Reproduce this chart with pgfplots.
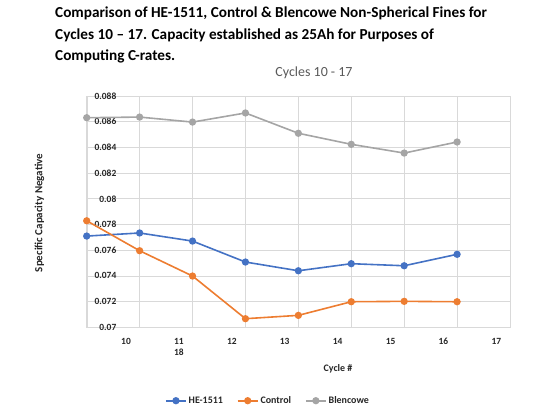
\documentclass[border=0pt]{standalone}
\usepackage{pgfplots}
\pgfplotsset{compat=1.18}
\usepackage{fontspec}
\setmainfont{Carlito}
\definecolor{cblue}{HTML}{4472C4}
\definecolor{corange}{HTML}{ED7D31}
\definecolor{cgray}{HTML}{A5A5A5}
\definecolor{gridc}{HTML}{D9D9D9}
\definecolor{txt}{HTML}{262626}
\definecolor{ttl}{HTML}{595959}
\begin{document}
\begin{tikzpicture}[x=1bp,y=1bp]
\path[use as bounding box] (0,0) rectangle (552,407);
\node[anchor=base west,inner sep=0pt,font=\fontsize{15.3}{17}\selectfont\bfseries] at (55,407-18) {Comparison of HE-1511, Control \& Blencowe Non-Spherical Fines for};
\node[anchor=base west,inner sep=0pt,font=\fontsize{15.3}{17}\selectfont\bfseries] at (55,407-39.5) {Cycles 10 -- 17. Capacity established as 25Ah for Purposes of};
\node[anchor=base west,inner sep=0pt,font=\fontsize{15.3}{17}\selectfont\bfseries] at (55,407-60.5) {Computing C-rates.};
\node[inner sep=0pt,text=ttl,font=\fontsize{14}{16}\selectfont] at (314,407-73) {Cycles 10 - 17};
\node[inner sep=0pt,rotate=90,text=txt,font=\fontsize{11}{12}\selectfont\bfseries] at (39.5,407-213) {Specific Capacity Negative};
\node[inner sep=0pt,text=txt,font=\fontsize{10}{12}\selectfont\bfseries] at (338,407-369) {Cycle \#};
\begin{axis}[
  at={(86.7bp,79.7bp)}, anchor=south west,
  width=423.3bp, height=231.3bp, scale only axis,
  xmin=0, xmax=8, ymin=0.07, ymax=0.088,
  scaled y ticks=false,
  xtick={0,...,7},
  xticklabels={10,{11\\18},12,13,14,15,16,17},
  xticklabel style={anchor=north, inner sep=0pt, yshift=-10.5bp, xshift=39.3bp, align=center, text=txt, font=\fontsize{9.5}{11.7}\selectfont\bfseries},
  ytick={0.07,0.072,0.074,0.076,0.078,0.08,0.082,0.084,0.086,0.088},
  yticklabels={0.07,0.072,0.074,0.076,0.078,0.08,0.082,0.084,0.086,0.088},
  yticklabel style={anchor=east, inner sep=0pt, xshift=29.8bp, text=txt, font=\fontsize{9.5}{11}\selectfont\bfseries},
  major tick length=0pt,
  grid=major,
  grid style={gridc, line width=0.8bp},
  axis line style={gridc, line width=0.8bp},
  clip=false,
  legend style={at={(0.4283,-0.3173)}, anchor=center, draw=none, fill=none,
    legend columns=3, font=\fontsize{10}{12}\selectfont\bfseries, text=txt,
    /tikz/every even column/.append style={column sep=12bp},
    legend cell align=left, inner sep=0pt},
  legend image code/.code={\draw[mark repeat=2,mark phase=2] plot coordinates {(0bp,0bp)(10bp,0bp)(20bp,0bp)};},
  every axis plot/.append style={line width=1.6bp, mark=*, mark size=2.8bp},
]
\draw[gridc, line width=1.6bp] (axis cs:0,0.07) -- (axis cs:0,0.088);
\addplot[cblue, mark options={fill=cblue}] coordinates {(0,0.07710)(1,0.07734)(2,0.07671)(3,0.07508)(4,0.07440)(5,0.07495)(6,0.07479)(7,0.07568)};
\addlegendentry{HE-1511}
\addplot[corange, mark options={fill=corange}] coordinates {(0,0.07829)(1,0.07596)(2,0.07399)(3,0.07067)(4,0.07093)(5,0.07199)(6,0.07202)(7,0.07199)};
\addlegendentry{Control}
\addplot[cgray, mark options={fill=cgray}] coordinates {(0,0.08631)(1,0.08636)(2,0.08597)(3,0.08668)(4,0.08510)(5,0.08424)(6,0.08356)(7,0.08442)};
\addlegendentry{Blencowe}
\end{axis}
\end{tikzpicture}
\end{document}
